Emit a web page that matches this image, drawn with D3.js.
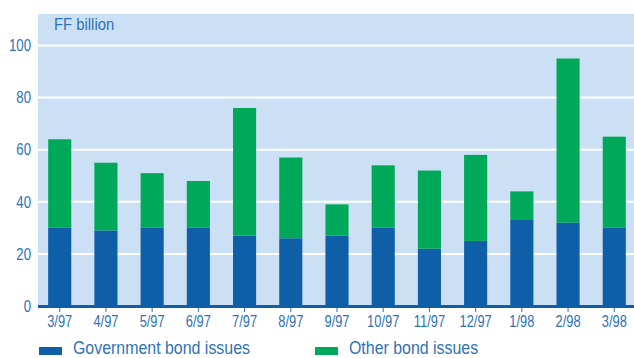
<!DOCTYPE html>
<html>
<head>
<meta charset="utf-8">
<script src="https://cdn.jsdelivr.net/npm/d3@7"></script>
<style>
  html, body { margin: 0; padding: 0; background: #ffffff; }
  svg { display: block; }
  text { font-family: "Liberation Sans", Arial, sans-serif; fill: #2f72b6; }
</style>
</head>
<body>
<svg id="chart" width="634" height="358"></svg>
<script>
// Monthly bond issues, FF billion
const months = ["3/97", "4/97", "5/97", "6/97", "7/97", "8/97", "9/97", "10/97", "11/97", "12/97", "1/98", "2/98", "3/98"];
const governmentIssues = [30, 29, 30, 30, 27, 26, 27, 30, 22, 25, 33, 32, 30];
const otherIssues = [34, 26, 21, 18, 49, 31, 12, 24, 30, 33, 11, 63, 35];
const yTicks = [0, 20, 40, 60, 80, 100];
const seriesNames = ["Government bond issues", "Other bond issues"];
const seriesColors = ["#0f5fa8", "#00a859"];

const svg = d3.select("#chart");
const plot = { left: 38, right: 634, top: 14, bottom: 306 };

// Narrow the lettering horizontally around each text's anchor point
function condense(sel, s) {
  sel.each(function () {
    const t = d3.select(this);
    const ax = +(t.attr("x") || 0);
    t.attr("transform", `translate(${ax},0) scale(${s},1) translate(${-ax},0)`);
  });
}

const x = d3.scaleBand()
  .domain(months)
  .range([38, 636])
  .paddingInner(0.5)
  .paddingOuter(0.22);

const y = d3.scaleLinear()
  .domain([0, 100])
  .range([plot.bottom, 45.5]);

// Plot background
svg.append("rect")
  .attr("x", plot.left).attr("y", plot.top)
  .attr("width", plot.right - plot.left).attr("height", plot.bottom - plot.top)
  .attr("fill", "#cbe0f4");

// Gridlines
svg.append("g")
  .selectAll("line")
  .data(yTicks.filter(d => d > 0))
  .join("line")
  .attr("x1", plot.left).attr("x2", plot.right)
  .attr("y1", d => y(d)).attr("y2", d => y(d))
  .attr("stroke", "#ffffff").attr("stroke-width", 2);

// Stacked bars
const rows = months.map((m, i) => ({ month: m, gov: governmentIssues[i], other: otherIssues[i] }));
const stacked = d3.stack().keys(["gov", "other"])(rows);

svg.append("g")
  .selectAll("g")
  .data(stacked)
  .join("g")
  .attr("fill", (d, i) => seriesColors[i])
  .selectAll("rect")
  .data(d => d)
  .join("rect")
  .attr("x", d => x(d.data.month))
  .attr("width", x.bandwidth())
  .attr("y", d => y(d[1]))
  .attr("height", d => y(d[0]) - y(d[1]));

// Baseline
svg.append("rect")
  .attr("x", plot.left).attr("y", plot.bottom - 1)
  .attr("width", plot.right - plot.left).attr("height", 3)
  .attr("fill", "#0f5fa8");

// X axis ticks and labels
const xAxis = d3.axisBottom(x).tickSize(4).tickPadding(3);
const gx = svg.append("g")
  .attr("transform", `translate(0,${plot.bottom + 2})`)
  .call(xAxis);
gx.select(".domain").remove();
gx.selectAll(".tick line").attr("stroke", "#2f72b6").attr("stroke-width", 1);
gx.selectAll(".tick text").attr("font-size", 16.5).attr("fill", "#2f72b6")
  .style("font-family", '"Liberation Sans", Arial, sans-serif')
  .call(condense, 0.78);

// Y axis labels
const yAxis = d3.axisLeft(y).tickValues(yTicks).tickSize(0).tickPadding(7);
const gy = svg.append("g")
  .attr("transform", `translate(${plot.left},0)`)
  .call(yAxis);
gy.select(".domain").remove();
gy.selectAll(".tick text").attr("font-size", 16.5).attr("fill", "#2f72b6")
  .style("font-family", '"Liberation Sans", Arial, sans-serif')
  .call(condense, 0.8);

// Unit label
svg.append("text")
  .attr("x", 54).attr("y", 30)
  .attr("font-size", 16.5)
  .text("FF billion")
  .call(condense, 0.9);

// Legend
const legendX = [39, 315];
const legend = svg.append("g")
  .selectAll("g")
  .data(seriesNames)
  .join("g")
  .attr("transform", (d, i) => `translate(${legendX[i]},347)`);
legend.append("rect")
  .attr("width", 23).attr("height", 8)
  .attr("fill", (d, i) => seriesColors[i]);
legend.append("text")
  .attr("x", 34).attr("y", 7)
  .attr("font-size", 18)
  .text(d => d)
  .call(condense, 0.885);
</script>
</body>
</html>
